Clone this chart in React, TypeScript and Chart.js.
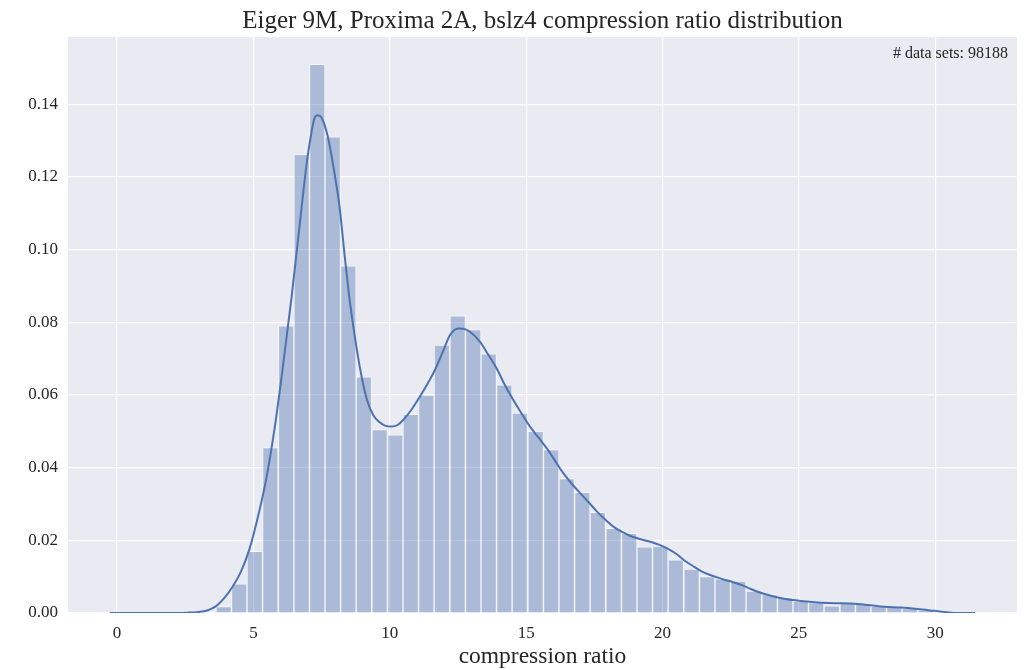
import React, { useEffect, useRef } from "react";
import { Chart, registerables } from "chart.js";

Chart.register(...registerables);

const TITLE = "Eiger 9M, Proxima 2A, bslz4 compression ratio distribution";
const X_LABEL = "compression ratio";
const ANNOTATION = "# data sets: 98188";

// histogram bin centres and densities
const binCenters = [
  3.91, 4.48, 5.05, 5.62, 6.2, 6.77, 7.34, 7.91, 8.48, 9.05, 9.63, 10.2, 10.77, 11.34, 11.91, 12.49,
  13.06, 13.63, 14.2, 14.77, 15.35, 15.92, 16.49, 17.06, 17.63, 18.21, 18.78, 19.35, 19.92, 20.49,
  21.07, 21.64, 22.21, 22.78, 23.35, 23.93, 24.5, 25.07, 25.64, 26.21, 26.79, 27.36, 27.93, 28.5,
  29.07, 29.65,
];
const binDensity = [
  0.0018, 0.008, 0.017, 0.0455, 0.079, 0.1262, 0.151, 0.131, 0.0955, 0.065, 0.0505, 0.049, 0.0547,
  0.06, 0.0737, 0.0818, 0.078, 0.0713, 0.0628, 0.055, 0.05, 0.045, 0.037, 0.0332, 0.0277, 0.0233,
  0.0219, 0.0182, 0.0184, 0.0146, 0.0121, 0.01, 0.0094, 0.0088, 0.006, 0.0051, 0.0043, 0.0033,
  0.0029, 0.002, 0.0027, 0.0024, 0.0019, 0.0016, 0.0013, 0.0008,
];

// kernel density estimate curve
const kdeX = [
  -0.27, 1.0, 2.0, 2.6, 3.0, 3.3, 3.63, 3.95, 4.24, 4.55, 4.85, 5.15, 5.47, 5.78, 6.08, 6.4, 6.69,
  6.94, 7.1, 7.24, 7.35, 7.49, 7.73, 7.95, 8.16, 8.35, 8.53, 8.72, 8.9, 9.15, 9.39, 9.63, 9.85,
  10.06, 10.3, 10.49, 10.8, 11.1, 11.4, 11.65, 11.95, 12.21, 12.51, 12.7, 12.94, 13.31, 13.6, 13.92,
  14.2, 14.53, 14.85, 15.15, 15.45, 15.76, 16.05, 16.37, 16.68, 16.99, 17.3, 17.6, 17.9, 18.21,
  18.52, 18.82, 19.2, 19.56, 19.87, 20.17, 20.5, 20.78, 21.1, 21.4, 21.7, 22.01, 22.3, 22.62, 22.93,
  23.24, 23.55, 23.85, 24.15, 24.46, 24.75, 25.07, 25.69, 26.3, 26.91, 27.53, 28.14, 28.75, 29.36,
  29.97, 30.59, 31.2, 31.46,
];
const kdeY = [
  0, 0, 0.00002, 0.0001, 0.0003, 0.0007, 0.0019, 0.0043, 0.0073, 0.0115, 0.0175, 0.026, 0.0369,
  0.051, 0.0677, 0.087, 0.1064, 0.123, 0.131, 0.1362, 0.137, 0.1364, 0.131, 0.122, 0.1116, 0.098,
  0.086, 0.076, 0.0677, 0.059, 0.0545, 0.0525, 0.0515, 0.0513, 0.0518, 0.0531, 0.056, 0.0595,
  0.0633, 0.0668, 0.072, 0.0765, 0.0783, 0.0782, 0.0774, 0.0746, 0.0712, 0.0673, 0.063, 0.0586,
  0.0547, 0.0512, 0.0483, 0.0453, 0.042, 0.0384, 0.0355, 0.0329, 0.0304, 0.0279, 0.0257, 0.0237,
  0.0223, 0.0212, 0.0203, 0.0196, 0.0188, 0.0178, 0.0163, 0.0146, 0.013, 0.0116, 0.0106, 0.0098,
  0.0091, 0.0084, 0.0076, 0.0066, 0.0057, 0.005, 0.0044, 0.0039, 0.0036, 0.0033, 0.0029, 0.0027,
  0.0026, 0.0022, 0.0017, 0.0015, 0.0011, 0.0006, 0.0001, 0, 0,
];

const X_MIN = -1.8;
const X_MAX = 33.0;
const Y_MAX = 0.1585;

const FONT = "'Liberation Serif', 'Times New Roman', serif";
const TEXT = "#262626";

const decorPlugin = {
  id: "decor",
  beforeDraw(chart: any) {
    const { ctx, chartArea } = chart;
    ctx.save();
    ctx.fillStyle = "#EAEAF2";
    ctx.fillRect(chartArea.left, chartArea.top, chartArea.right - chartArea.left, chartArea.bottom - chartArea.top);
    ctx.restore();
  },
  afterDraw(chart: any) {
    const { ctx, chartArea } = chart;
    const cx = (chartArea.left + chartArea.right) / 2;
    ctx.save();
    ctx.fillStyle = TEXT;
    ctx.textAlign = "center";
    ctx.textBaseline = "alphabetic";
    ctx.font = `25px ${FONT}`;
    ctx.fillText(TITLE, cx, 28);
    ctx.font = `23.5px ${FONT}`;
    ctx.fillText(X_LABEL, cx, 663);
    ctx.textAlign = "right";
    ctx.textBaseline = "middle";
    ctx.font = `16px ${FONT}`;
    ctx.fillText(ANNOTATION, chartArea.right - 9, chartArea.top + 17);
    ctx.restore();
  },
};

export default function App() {
  const ref = useRef<HTMLCanvasElement | null>(null);

  useEffect(() => {
    if (!ref.current) return;
    const chart = new Chart(ref.current, {
      type: "bar",
      data: {
        datasets: [
          {
            type: "line",
            data: kdeX.map((x, i) => ({ x, y: kdeY[i] })),
            borderColor: "#4C72B0",
            borderWidth: 2,
            pointRadius: 0,
            fill: false,
            cubicInterpolationMode: "monotone",
            order: 0,
          } as any,
          {
            type: "bar",
            data: binCenters.map((x, i) => ({ x, y: binDensity[i] })),
            backgroundColor: "rgba(76,114,176,0.4)",
            borderColor: "rgba(255,255,255,0.45)",
            borderWidth: 1,
            barPercentage: 1,
            categoryPercentage: 1,
            order: 1,
          } as any,
        ],
      },
      options: {
        responsive: false,
        animation: false,
        layout: { padding: { top: 37, right: 13, bottom: 0, left: 0 } },
        plugins: {
          legend: { display: false },
          tooltip: { enabled: false },
          title: { display: false },
        },
        scales: {
          x: {
            type: "linear",
            min: X_MIN,
            max: X_MAX,
            offset: false,
            border: { display: false },
            grid: { color: "#FFFFFF", lineWidth: 1.2, drawTicks: false, offset: false },
            ticks: {
              stepSize: 5,
              includeBounds: false,
              padding: 10,
              color: TEXT,
              font: { family: FONT, size: 17 },
              callback: (v: any) => String(v),
            },
            afterFit: (s: any) => {
              s.height = 57;
            },
          },
          y: {
            type: "linear",
            min: 0,
            max: Y_MAX,
            border: { display: false },
            grid: { color: "#FFFFFF", lineWidth: 1.2, drawTicks: false },
            ticks: {
              stepSize: 0.02,
              includeBounds: false,
              padding: 10,
              color: TEXT,
              font: { family: FONT, size: 17 },
              callback: (v: any) => Number(v).toFixed(2),
            },
            afterFit: (s: any) => {
              s.width = 68;
            },
          },
        },
      } as any,
      plugins: [decorPlugin],
    });
    return () => chart.destroy();
  }, []);

  return (
    <div style={{ position: "fixed", left: 0, top: 0, width: 1030, height: 670, background: "#FFFFFF" }}>
      <canvas ref={ref} width={1030} height={670} style={{ display: "block" }} />
    </div>
  );
}
